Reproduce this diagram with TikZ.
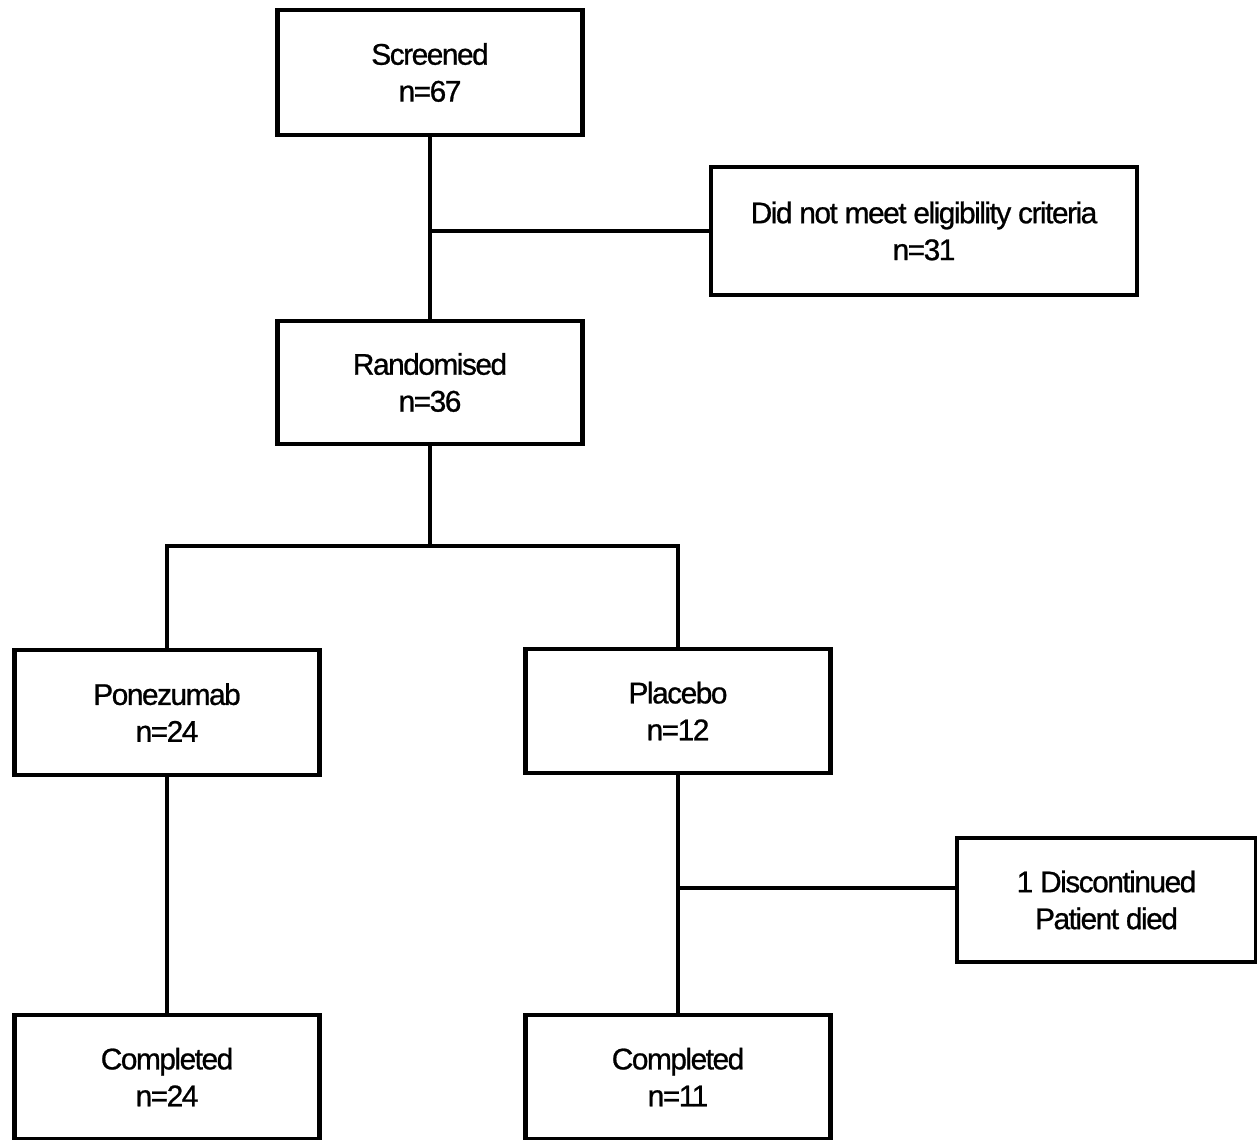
\documentclass[tikz,border=0pt]{standalone}
\usepackage{fontspec}
\setmainfont[LetterSpace=-5,FakeBold=0.8]{Liberation Sans}
\begin{document}
\begin{tikzpicture}[x=0.02cm,y=-0.02cm,
  box/.style={draw,line width=2.6pt,minimum width=6.1cm,minimum height=2.5cm,
    inner sep=0pt,align=center,font=\fontsize{17}{21}\selectfont},
  link/.style={line width=2.6pt}]
\useasboundingbox (0,0) rectangle (1257,1139);
% boxes
\node[box] (screen) at (430,72.5) {Screened\\n=67};
\node[box,minimum width=8.52cm,minimum height=2.56cm] (excl) at (924,231) {Did not meet eligibility criteria\\n=31};
\node[box,minimum height=2.46cm] (rand) at (430,382.5) {Randomised\\n=36};
\node[box] (pone) at (167,712.5) {Ponezumab\\n=24};
\node[box,minimum height=2.48cm] (plac) at (678,711) {Placebo\\n=12};
\node[box,minimum width=5.98cm,minimum height=2.48cm] (disc) at (1106.5,900) {1 Discontinued\\Patient died};
\node[box,minimum height=2.48cm] (compA) at (167,1077) {Completed\\n=24};
\node[box,minimum height=2.48cm] (compB) at (678,1077) {Completed\\n=11};
% connectors
\coordinate (j1) at (430,231);
\coordinate (j2) at (430,546);
\coordinate (j3) at (678,888);
\draw[link] (screen.south) -- (rand.north);
\draw[link] (j1) -- (j1 -| excl.west);
\draw[link] (rand.south) -- (j2);
\draw[link] (pone.north) |- (j2) -| (plac.north);
\draw[link] (pone.south) -- (compA.north);
\draw[link] (plac.south) -- (compB.north);
\draw[link] (j3) -- (j3 -| disc.west);
\end{tikzpicture}
\end{document}
